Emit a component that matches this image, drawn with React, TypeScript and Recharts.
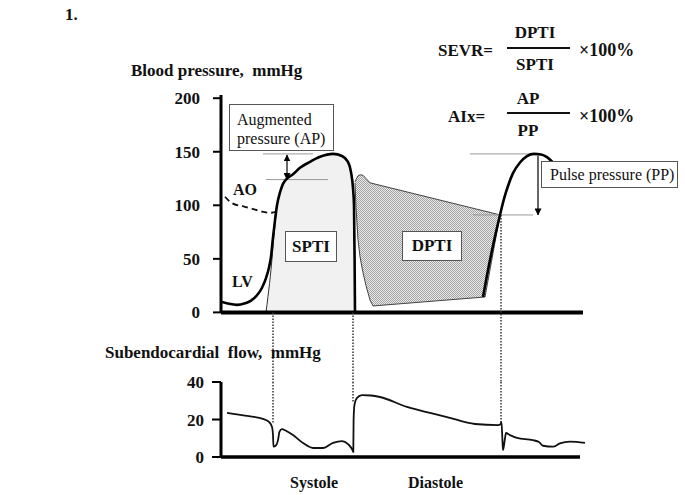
import type { ReactNode } from 'react';
import { Area, ComposedChart, Line, ReferenceLine, XAxis, YAxis } from 'recharts';

const serif = "'Liberation Serif', 'Times New Roman', serif";

// t = time (arbitrary units from the pressure axis), p = mmHg
const pressureTicks = [0, 50, 100, 150, 200];
const flowTicks = [0, 20, 40];

const lvBeat1 = [
  { t: 0, p: 10 }, { t: 8, p: 8 }, { t: 16, p: 7 }, { t: 24, p: 8.5 }, { t: 30, p: 11 },
  { t: 36, p: 16 }, { t: 41, p: 23 }, { t: 45, p: 32 }, { t: 48, p: 42 }, { t: 50, p: 52 },
  { t: 52, p: 70 }, { t: 54, p: 86 }, { t: 56, p: 100 }, { t: 59, p: 112 }, { t: 62, p: 120 },
  { t: 66, p: 125 }, { t: 72, p: 129 }, { t: 79, p: 135 }, { t: 89, p: 140.6 }, { t: 99, p: 145.3 },
  { t: 112, p: 148 }, { t: 121, p: 146 }, { t: 127, p: 140.6 }, { t: 130, p: 131 }, { t: 132, p: 116 },
  { t: 133, p: 100 }, { t: 133.6, p: 50 }, { t: 134, p: 0 },
];

const lvBeat2 = [
  { t: 262, p: 14.4 }, { t: 269, p: 49 }, { t: 275, p: 75 }, { t: 279, p: 91 }, { t: 283, p: 106 },
  { t: 287, p: 118 }, { t: 292, p: 130 }, { t: 299, p: 140 }, { t: 306, p: 146 }, { t: 313, p: 148 },
  { t: 320, p: 147.5 }, { t: 326, p: 145 }, { t: 332, p: 140 },
];

const aorta = [
  { t: 4, p: 108 }, { t: 11, p: 102 }, { t: 24, p: 98.6 }, { t: 34, p: 96 }, { t: 41, p: 94 },
  { t: 49, p: 93 }, { t: 56, p: 94 },
];

const sptiArea = [
  { t: 45, p: 0 }, { t: 47, p: 15 }, { t: 50, p: 40 }, { t: 53, p: 72 }, { t: 56, p: 100 },
  { t: 59, p: 112 }, { t: 62, p: 120 }, { t: 66, p: 125 }, { t: 72, p: 129 }, { t: 79, p: 135 },
  { t: 89, p: 140.6 }, { t: 99, p: 145.3 }, { t: 112, p: 148 }, { t: 121, p: 146 }, { t: 127, p: 140.6 },
  { t: 130, p: 131 }, { t: 132, p: 116 }, { t: 133, p: 100 }, { t: 133.6, p: 50 }, { t: 134, p: 0 },
];

const dptiArea = [
  { t: 134, p: [121, 122] }, { t: 135, p: [98, 124] }, { t: 137, p: [68, 127.5] }, { t: 139, p: [52, 128.5] },
  { t: 142, p: [37, 128] }, { t: 145, p: [25, 125] }, { t: 149, p: [11.6, 121] }, { t: 152, p: [6, 120.3] },
  { t: 264, p: [14.4, 94.5] }, { t: 279, p: [91, 91] },
];

const flow = [
  { t: 6, f: 23.5 }, { t: 26, f: 21.9 }, { t: 42, f: 20.3 }, { t: 48, f: 18.7 }, { t: 51, f: 16 },
  { t: 52, f: 11.7 }, { t: 52.5, f: 5.5 }, { t: 55, f: 6.2 }, { t: 57, f: 9 }, { t: 58.5, f: 13.5 },
  { t: 61, f: 14.9 }, { t: 65, f: 14 }, { t: 72, f: 11.7 }, { t: 82, f: 7.5 }, { t: 92, f: 4.8 },
  { t: 102, f: 4.8 }, { t: 112, f: 7.5 }, { t: 121, f: 8.5 }, { t: 127, f: 6.9 }, { t: 131.5, f: 3.7 },
  { t: 132.3, f: 2.7 }, { t: 132.6, f: 20 }, { t: 133.5, f: 28 }, { t: 136, f: 31.5 }, { t: 141, f: 33 },
  { t: 150, f: 32.8 }, { t: 159, f: 32 }, { t: 186, f: 26.7 }, { t: 209, f: 23.5 }, { t: 226, f: 21.3 },
  { t: 254, f: 17.6 }, { t: 277, f: 17 }, { t: 279.5, f: 17.5 }, { t: 280.5, f: 18.7 }, { t: 281.5, f: 8 },
  { t: 282, f: 3.7 }, { t: 284, f: 10 }, { t: 285, f: 12.8 }, { t: 289, f: 11.7 }, { t: 296, f: 10.2 },
  { t: 312, f: 9 }, { t: 318, f: 8 }, { t: 322, f: 6 }, { t: 332, f: 5.5 }, { t: 339, f: 7.3 },
  { t: 349, f: 8.2 }, { t: 364, f: 7.5 },
];

// phase markers (start systole, end systole, next start) and where they meet the curves
const phaseTimes = [52, 132, 280];
const phaseTopPressure = [0, 0, 91];
const phaseFlowEnd = [18, 29, 18.7];

const apLevels = { peak: 148, shoulder: 124 };
const ppLevels = { peak: 148, foot: 91 };

function arrowShape(both: boolean) {
  return (props: any) => (
    <line
      x1={props.x1}
      y1={props.y1}
      x2={props.x2}
      y2={props.y2}
      stroke="#000"
      strokeWidth={1.2}
      markerEnd="url(#arrowHead)"
      markerStart={both ? 'url(#arrowHead)' : undefined}
    />
  );
}

function Txt({ x, y, children, bold = true, size = 17, anchor = 'start' }: { x: number; y: number; children: ReactNode; bold?: boolean; size?: number; anchor?: string }) {
  const shift = anchor === 'middle' ? '-50%' : '0';
  return (
    <div
      style={{
        position: 'absolute',
        left: x,
        top: y,
        transform: `translate(${shift}, -50%)`,
        fontFamily: serif,
        fontWeight: bold ? 700 : 400,
        fontSize: size,
        lineHeight: 1,
        whiteSpace: 'pre',
        color: '#111',
      }}
    >
      {children}
    </div>
  );
}

function Box({ x, y, w, h, children, style }: { x: number; y: number; w: number; h: number; children: ReactNode; style?: React.CSSProperties }) {
  return (
    <div
      style={{
        position: 'absolute',
        left: x,
        top: y,
        width: w,
        height: h,
        boxSizing: 'border-box',
        border: '1px solid #555',
        background: '#fff',
        fontFamily: serif,
        color: '#111',
        ...style,
      }}
    >
      {children}
    </div>
  );
}

const tickStyle = { fontFamily: serif, fontWeight: 700, fontSize: 17, fill: '#111' };

export default function App() {
  return (
    <div style={{ position: 'absolute', left: 0, top: 0, width: 685, height: 495, background: '#fff', overflow: 'hidden' }}>
      <svg width={0} height={0} style={{ position: 'absolute' }}>
        <defs>
          <pattern id="stipple" width={2} height={2} patternUnits="userSpaceOnUse">
            <rect width={2} height={2} fill="#ebebeb" />
            <rect x={0} y={0} width={1} height={1} fill="#a2a2a2" />
            <rect x={1} y={1} width={1} height={1} fill="#a2a2a2" />
          </pattern>
          <marker id="arrowHead" markerWidth={7} markerHeight={7} refX={6.5} refY={3.5} orient="auto-start-reverse" markerUnits="userSpaceOnUse">
            <path d="M0,0 L7,3.5 L0,7 z" fill="#000" />
          </marker>
        </defs>
      </svg>

      <div style={{ position: 'absolute', left: 0, top: 0 }}>
        <ComposedChart width={685} height={495} margin={{ top: 95, right: 102, bottom: 113, left: 161 }}>
          <XAxis type="number" dataKey="t" domain={[0, 362]} hide allowDataOverflow />
          <YAxis
            type="number"
            domain={[-65, 203]}
            ticks={pressureTicks}
            allowDataOverflow
            width={60}
            axisLine={false}
            tickSize={8}
            tickMargin={13}
            tickLine={{ stroke: '#000', strokeWidth: 2 }}
            tick={tickStyle}
          />
          <Area data={sptiArea} dataKey="p" type="monotone" fill="#f1f1f1" fillOpacity={1} stroke="#333" strokeWidth={1} isAnimationActive={false} />
          <Area data={dptiArea} dataKey="p" type="linear" fill="url(#stipple)" fillOpacity={1} stroke="#444" strokeWidth={1} isAnimationActive={false} />
          <ReferenceLine segment={[{ x: 0, y: 0 }, { x: 0, y: 203 }]} stroke="#000" strokeWidth={3} />
          <ReferenceLine segment={[{ x: 0, y: 0 }, { x: 362, y: 0 }]} stroke="#000" strokeWidth={4} />
          {phaseTimes.map((t, i) => (
            <ReferenceLine key={t} segment={[{ x: t, y: phaseTopPressure[i] }, { x: t, y: -65 }]} stroke="#333" strokeWidth={1.5} strokeDasharray="1.5 1.5" />
          ))}
          <ReferenceLine segment={[{ x: 42, y: apLevels.peak }, { x: 92, y: apLevels.peak }]} stroke="#999" strokeWidth={1} />
          <ReferenceLine segment={[{ x: 45, y: apLevels.shoulder }, { x: 107, y: apLevels.shoulder }]} stroke="#999" strokeWidth={1} />
          <ReferenceLine segment={[{ x: 249, y: ppLevels.peak }, { x: 314, y: ppLevels.peak }]} stroke="#999" strokeWidth={1} />
          <ReferenceLine segment={[{ x: 252, y: ppLevels.foot }, { x: 312, y: ppLevels.foot }]} stroke="#999" strokeWidth={1} />
          <ReferenceLine segment={[{ x: 66, y: apLevels.peak - 1 }, { x: 66, y: apLevels.shoulder }]} shape={arrowShape(true)} />
          <ReferenceLine segment={[{ x: 317, y: ppLevels.peak - 2 }, { x: 317, y: ppLevels.foot }]} shape={arrowShape(false)} />
          <Line data={aorta} dataKey="p" type="monotone" stroke="#111" strokeWidth={1.8} strokeDasharray="6 4" dot={false} activeDot={false} isAnimationActive={false} />
          <Line data={lvBeat1} dataKey="p" type="monotone" stroke="#000" strokeWidth={2.6} dot={false} activeDot={false} isAnimationActive={false} />
          <Line data={lvBeat2} dataKey="p" type="monotone" stroke="#000" strokeWidth={2.6} dot={false} activeDot={false} isAnimationActive={false} />
        </ComposedChart>
      </div>

      <div style={{ position: 'absolute', left: 0, top: 0 }}>
        <ComposedChart width={685} height={495} margin={{ top: 382, right: 99, bottom: 38, left: 161 }}>
          <XAxis type="number" dataKey="t" domain={[0, 365]} hide allowDataOverflow />
          <YAxis
            type="number"
            domain={[0, 40]}
            ticks={flowTicks}
            allowDataOverflow
            width={60}
            axisLine={{ stroke: '#000', strokeWidth: 3 }}
            tickSize={9}
            tickMargin={8}
            tickLine={{ stroke: '#000', strokeWidth: 2 }}
            tick={tickStyle}
          />
          <ReferenceLine segment={[{ x: 0, y: 0 }, { x: 359, y: 0 }]} stroke="#000" strokeWidth={3.5} />
          {phaseTimes.map((t, i) => (
            <ReferenceLine key={t} segment={[{ x: t, y: 40 }, { x: t, y: phaseFlowEnd[i] }]} stroke="#333" strokeWidth={1.5} strokeDasharray="1.5 1.5" />
          ))}
          <Line data={flow} dataKey="f" type="monotone" stroke="#111" strokeWidth={1.8} dot={false} activeDot={false} isAnimationActive={false} />
        </ComposedChart>
      </div>

      <Txt x={65} y={14}>1.</Txt>
      <Txt x={131} y={70}>{'Blood pressure,  mmHg'}</Txt>
      <Txt x={105} y={352}>{'Subendocardial  flow,  mmHg'}</Txt>
      <Txt x={290} y={483} size={16}>Systole</Txt>
      <Txt x={408} y={483} size={16}>Diastole</Txt>
      <Txt x={233} y={190} size={16}>AO</Txt>
      <Txt x={232} y={282} size={16}>LV</Txt>

      <Txt x={438} y={50}>SEVR=</Txt>
      <Txt x={535} y={32} anchor="middle">DPTI</Txt>
      <div style={{ position: 'absolute', left: 507, top: 47, width: 63, borderTop: '2px solid #111' }} />
      <Txt x={535} y={64} anchor="middle">SPTI</Txt>
      <Txt x={579} y={50} size={18}>×100%</Txt>

      <Txt x={448} y={116}>AIx=</Txt>
      <Txt x={528} y={98} anchor="middle">AP</Txt>
      <div style={{ position: 'absolute', left: 507, top: 112, width: 63, borderTop: '2px solid #111' }} />
      <Txt x={528} y={130} anchor="middle">PP</Txt>
      <Txt x={579} y={116} size={18}>×100%</Txt>

      <Box x={229} y={104} w={105} h={47} style={{ fontSize: 16, lineHeight: '19px', padding: '5px 0 0 7px' }}>
        Augmented
        <br />
        pressure (AP)
      </Box>
      <Box x={285} y={231} w={52} h={31} style={{ fontSize: 17, fontWeight: 700, display: 'flex', alignItems: 'center', justifyContent: 'center' }}>
        SPTI
      </Box>
      <Box x={402} y={231} w={60} h={30} style={{ fontSize: 17, fontWeight: 700, display: 'flex', alignItems: 'center', justifyContent: 'center' }}>
        DPTI
      </Box>
      <Box x={541} y={161} w={137} h={27} style={{ fontSize: 16, display: 'flex', alignItems: 'center', paddingLeft: 8 }}>
        Pulse pressure (PP)
      </Box>
    </div>
  );
}
